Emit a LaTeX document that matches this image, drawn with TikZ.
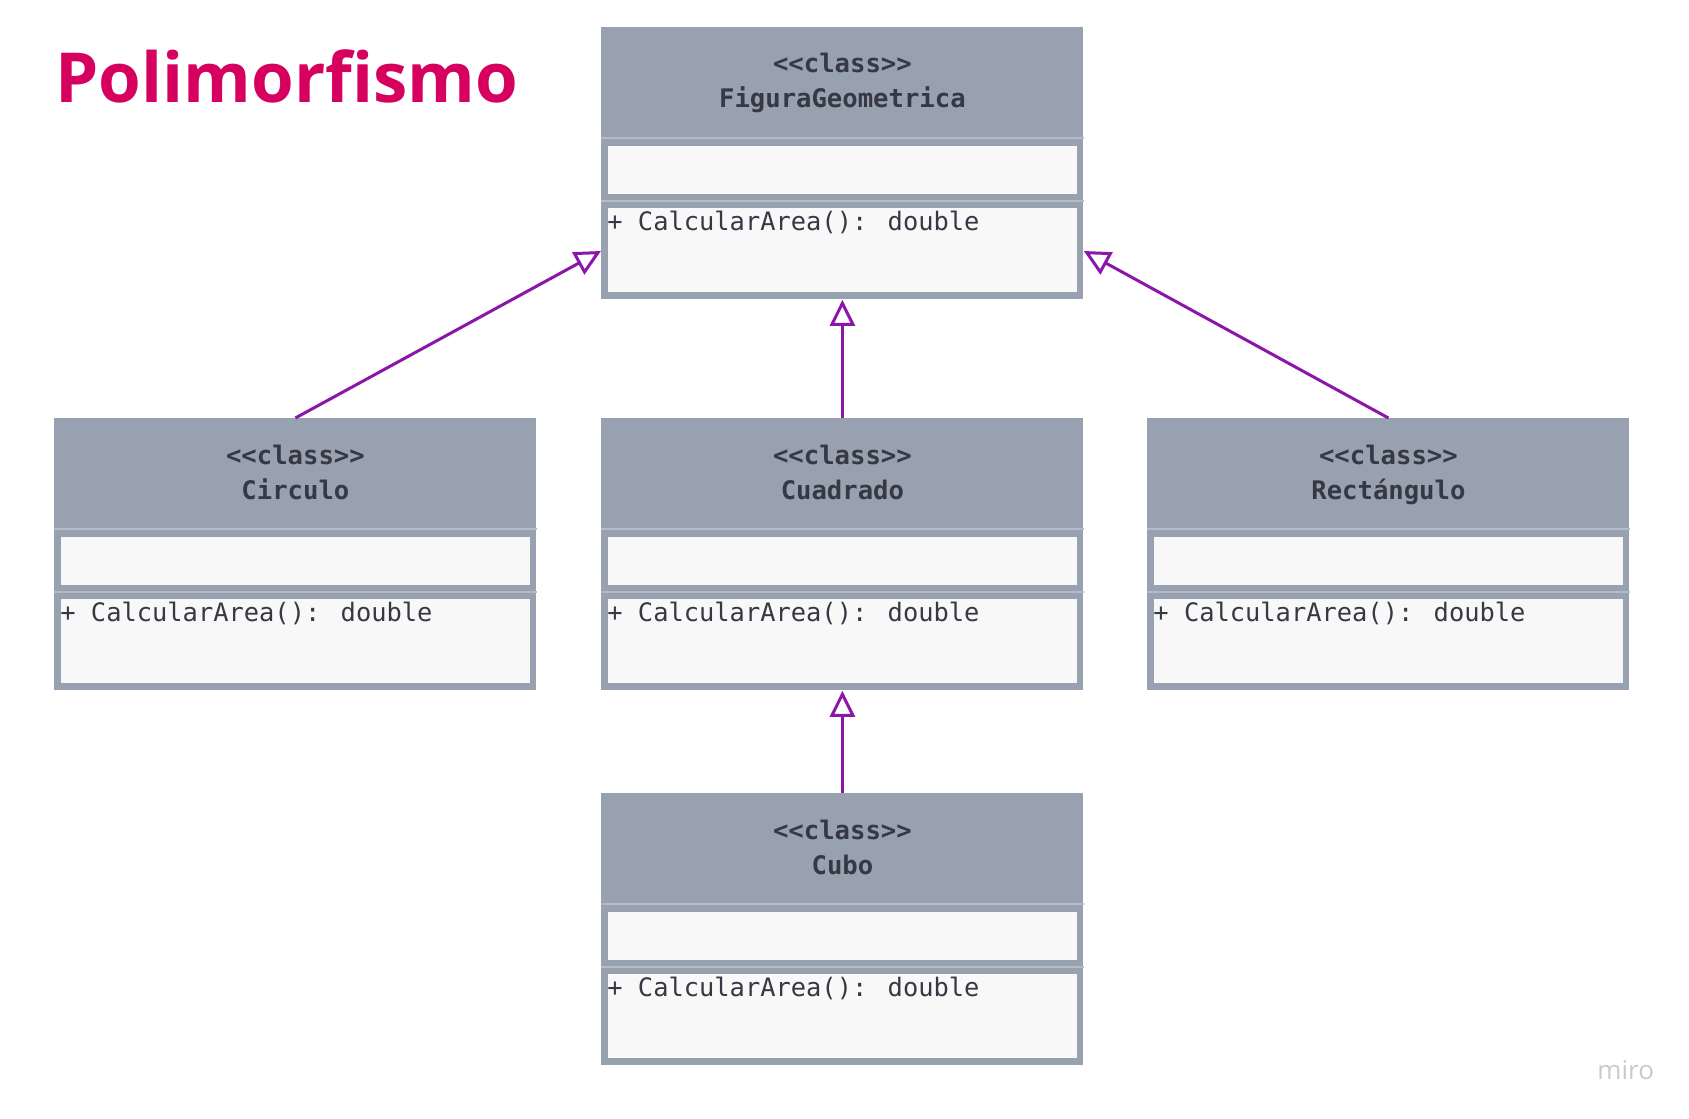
\documentclass[tikz,border=0pt]{standalone}
\usepackage{fontspec}
\usetikzlibrary{arrows.meta,calc}
\newfontfamily\umlmono{DejaVu Sans Mono}
\newfontfamily\titlefont{Open Sans}[Ligatures=NoCommon]
\definecolor{umlgray}{HTML}{98A1B0}
\definecolor{umlwhite}{HTML}{F8F8F8}
\definecolor{umlline}{HTML}{B3BBC7}
\definecolor{umltext}{HTML}{363944}
\definecolor{inheritcol}{HTML}{8B16A8}
\definecolor{titlecol}{HTML}{D6005F}
\definecolor{mirocol}{HTML}{C9CBD3}
\tikzset{
  classbox/.style={fill=umlgray, minimum width=241pt, minimum height=136pt, inner sep=0pt, anchor=north west, draw=none},
  stereo/.style={font=\umlmono\bfseries\fontsize{12.8pt}{15pt}\selectfont, text=umltext, anchor=base, inner sep=0pt},
  methodtext/.style={font=\umlmono\fontsize{12.7pt}{15pt}\selectfont, text=umltext, anchor=base west, inner sep=0pt},
  sepline/.style={draw=umlline, line width=0.6pt},
  inh/.style={draw=inheritcol, line width=1.5pt, -{Triangle[length=13pt, width=12.5pt, fill=white]}},
}
\newcommand\umlclass[4]{%
  \node[classbox] (#1) at (#2,#3) {};
  \fill[umlwhite] ($(#1.north west)+(7,119)$) rectangle ($(#1.north east)+(-7,167)$);
  \fill[umlwhite] ($(#1.north west)+(7,181)$) rectangle ($(#1.north east)+(-7,265)$);
  \draw[sepline] ($(#1.north west)+(0,111)$) -- ($(#1.north east)+(0,111)$);
  \draw[sepline] ($(#1.north west)+(0,174)$) -- ($(#1.north east)+(0,174)$);
  \node[stereo] (#1-st) at ($(#1.north)+(0,46)$) {<\kern0pt<class>\kern0pt>};
  \node[stereo] (#1-nm) at ($(#1.north)+(0,81)$) {#4};
  \node[methodtext] (#1-op) at ($(#1.north west)+(6,203)$) {+ CalcularArea(): double};
}
\begin{document}
\begin{tikzpicture}[x=0.5pt,y=-0.5pt]
  \fill[white] (0,0) rectangle (1689,1118);
  \useasboundingbox (0,0) rectangle (1689,1118);
  \node[anchor=base west, inner sep=0pt, font=\titlefont\bfseries\fontsize{34.5pt}{40pt}\selectfont, text=titlecol] (title) at (55,103) {Polimorfismo};
  \umlclass{fig}{601}{27}{FiguraGeometrica}
  \umlclass{circ}{54}{418}{Circulo}
  \umlclass{cuad}{601}{418}{Cuadrado}
  \umlclass{rect}{1147}{418}{Rectángulo}
  \umlclass{cubo}{601}{793}{Cubo}
  \draw[inh] (circ.north) -- ($(fig.north west)+(0,224)$);
  \draw[inh] (rect.north) -- ($(fig.north east)+(0,224)$);
  \draw[inh] (cuad.north) -- (fig.south);
  \draw[inh] (cubo.north) -- (cuad.south);
  \node[anchor=base west, inner sep=0pt, font=\titlefont\fontsize{13pt}{15pt}\selectfont, text=mirocol] (miro) at (1597,1079) {miro};
\end{tikzpicture}
\end{document}
